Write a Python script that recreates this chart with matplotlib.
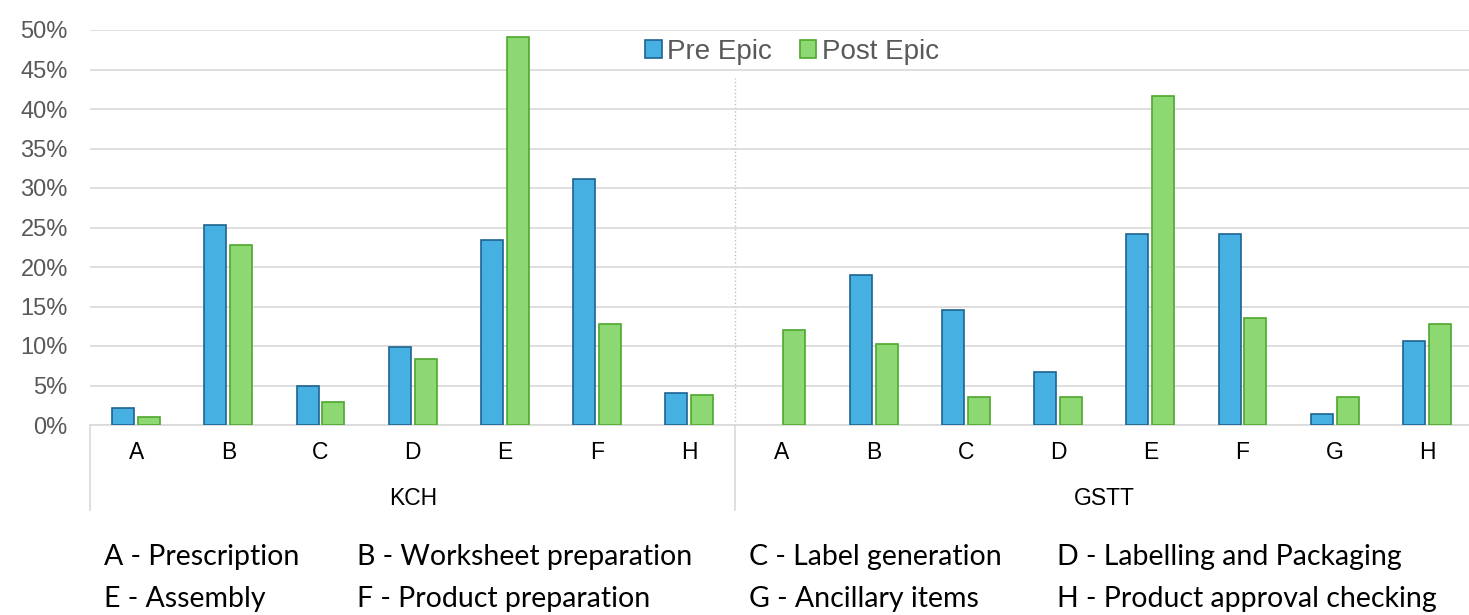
import numpy as np
import matplotlib.pyplot as plt

# category codes per site
kch_cats = ['A', 'B', 'C', 'D', 'E', 'F', 'H']
gstt_cats = ['A', 'B', 'C', 'D', 'E', 'F', 'G', 'H']

# percentages
kch_pre = [2.1, 25.3, 5.0, 9.9, 23.4, 31.1, 4.0]
kch_post = [1.0, 22.8, 2.9, 8.3, 49.1, 12.8, 3.8]
gstt_pre = [0.0, 19.0, 14.5, 6.7, 24.2, 24.2, 1.4, 10.6]
gstt_post = [12.0, 10.3, 3.5, 3.5, 41.6, 13.6, 3.5, 12.8]

key_labels = ['A - Prescription', 'B - Worksheet preparation', 'C - Label generation',
              'D - Labelling and Packaging', 'E - Assembly', 'F - Product preparation',
              'G - Ancillary items', 'H - Product approval checking']

plt.rcParams['font.family'] = ['Liberation Sans', 'DejaVu Sans']

cats = kch_cats + gstt_cats
pre = kch_pre + gstt_pre
post = kch_post + gstt_post
x = np.arange(len(cats))

fig = plt.figure(figsize=(14.69, 6.15), dpi=100)
ax = fig.add_axes([90 / 1469, 190 / 615, 1383 / 1469, 395 / 615])

w = 0.24
off = 0.14
b1 = ax.bar(x - off, pre, w, color='#45B0E1', edgecolor='#1F6391', linewidth=1.2, label='Pre Epic', zorder=3)
b2 = ax.bar(x + off, post, w, color='#8ED873', edgecolor='#4EA72E', linewidth=1.2, label='Post Epic', zorder=3)
# no bar drawn where the value is zero
for r in list(b1) + list(b2):
    if r.get_height() == 0:
        r.set_visible(False)

ax.set_xlim(-0.5, len(cats) - 0.5)
ax.set_ylim(0, 50)
ax.set_yticks(np.arange(0, 51, 5))
ax.set_yticklabels([f'{v}%' for v in range(0, 51, 5)], fontsize=17, color='#595959')
ax.grid(axis='y', color='#d9d9d9', linewidth=1.2, zorder=0)
for s in ['top', 'right', 'left']:
    ax.spines[s].set_visible(False)
ax.spines['bottom'].set_color('#d9d9d9')
ax.spines['bottom'].set_linewidth(1.2)
ax.tick_params(axis='y', length=0, pad=16)
ax.set_xticks([])

# dotted separator between sites
sep = len(kch_cats) - 0.5
ax.plot([sep, sep], [0, 43.9], color='#bfbfbf', linestyle=':', linewidth=1, zorder=1)

# category labels and site labels
tr = ax.get_xaxis_transform()
for xi, c in zip(x, cats):
    ax.text(xi, -0.07, c, transform=tr, ha='center', va='center', fontsize=16.5, color='black')
ax.text((len(kch_cats) - 1) / 2, -0.187, 'KCH', transform=tr, ha='center', va='center', fontsize=16.5)
ax.text(len(kch_cats) + (len(gstt_cats) - 1) / 2, -0.187, 'GSTT', transform=tr, ha='center', va='center', fontsize=16.5)
for xs in [-0.5, sep]:
    ax.plot([xs, xs], [0, -0.215], transform=tr, color='#d9d9d9', linewidth=1.2, clip_on=False)

leg = ax.legend(loc='upper center', ncol=2, frameon=False,
                fontsize=20, handlelength=0.6, handleheight=0.6, handletextpad=0.2, columnspacing=1.0,
                labelcolor='#595959', borderaxespad=0, borderpad=0)
leg.set_bbox_to_anchor((792 / 1469, 1 - 39 / 615), transform=fig.transFigure)

# key text below chart
col_x = [104, 357, 749, 1057]
row_y = [557, 599]
for i, t in enumerate(key_labels):
    fig.text(col_x[i % 4] / 1469, 1 - row_y[i // 4] / 615, t, ha='left', va='center',
             fontsize=20.5, family=['Lato', 'DejaVu Sans'])

fig.savefig('out.png', dpi=100)
